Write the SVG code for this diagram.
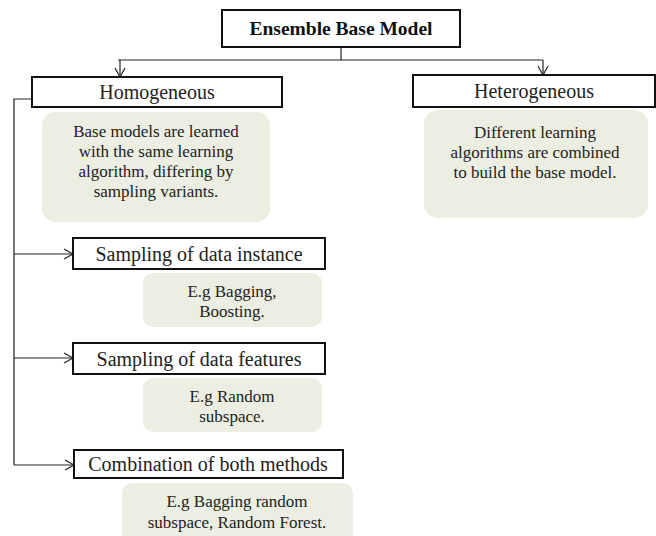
<svg xmlns="http://www.w3.org/2000/svg" width="656" height="536" viewBox="0 0 656 536">
<defs>
<marker id="arr" markerWidth="12" markerHeight="12" refX="10" refY="6" orient="auto" markerUnits="userSpaceOnUse">
<path d="M1,1 L10,6 L1,11" fill="none" stroke="#222" stroke-width="1.2"/>
</marker>
<style>
.box{fill:#fff;stroke:#111;stroke-width:2}
.note{fill:#eceee2;stroke:none}
.lbl{font-family:"Liberation Serif",serif;font-size:20px;fill:#222;text-anchor:middle}
.ttl{font-family:"Liberation Serif",serif;font-size:19.5px;font-weight:bold;fill:#111;text-anchor:middle}
.txt{font-family:"Liberation Serif",serif;font-size:17px;fill:#222;text-anchor:middle}
.con{fill:none;stroke:#222;stroke-width:1.2}
</style>
</defs>
<rect width="656" height="536" fill="#fff"/>
<g id="connectors">
<path class="con" d="M341,47 V60"/>
<path class="con" d="M118,60 H543"/>
<path class="con" d="M120,60 V77" marker-end="url(#arr)"/>
<path class="con" d="M543,60 V75" marker-end="url(#arr)"/>
<path class="con" d="M32,99 H14 V465"/>
<path class="con" d="M14,254 H73" marker-end="url(#arr)"/>
<path class="con" d="M14,358 H73" marker-end="url(#arr)"/>
<path class="con" d="M14,465 H74" marker-end="url(#arr)"/>
</g>
<g id="ensemble">
<rect class="box" x="222" y="10" width="238" height="37"/>
<text class="ttl" x="341" y="35">Ensemble Base Model</text>
</g>
<g id="homogeneous">
<rect class="box" x="32" y="77" width="250" height="30"/>
<text class="lbl" x="157" y="99">Homogeneous</text>
</g>
<g id="homogeneous-note">
<rect class="note" x="42" y="112" width="228" height="110" rx="14"/>
<text class="txt" x="156" y="137">Base models are learned</text>
<text class="txt" x="156" y="157">with the same learning</text>
<text class="txt" x="156" y="177">algorithm, differing by</text>
<text class="txt" x="156" y="197">sampling variants.</text>
</g>
<g id="heterogeneous">
<rect class="box" x="413" y="75" width="242" height="32"/>
<text class="lbl" x="534" y="98">Heterogeneous</text>
</g>
<g id="heterogeneous-note">
<rect class="note" x="424" y="110" width="224" height="108" rx="14"/>
<text class="txt" x="535" y="138">Different learning</text>
<text class="txt" x="535" y="158">algorithms are combined</text>
<text class="txt" x="535" y="178">to build the base model.</text>
</g>
<g id="instance">
<rect class="box" x="73" y="238" width="252" height="31"/>
<text class="lbl" x="199" y="261">Sampling of data instance</text>
</g>
<g id="instance-note">
<rect class="note" x="143" y="273" width="179" height="54" rx="10"/>
<text class="txt" x="232" y="297">E.g Bagging,</text>
<text class="txt" x="232" y="317">Boosting.</text>
</g>
<g id="features">
<rect class="box" x="73" y="343" width="252" height="31"/>
<text class="lbl" x="199" y="366">Sampling of data features</text>
</g>
<g id="features-note">
<rect class="note" x="143" y="378" width="179" height="54" rx="10"/>
<text class="txt" x="232" y="402">E.g Random</text>
<text class="txt" x="232" y="422">subspace.</text>
</g>
<g id="combination">
<rect class="box" x="74" y="450" width="269" height="28"/>
<text class="lbl" x="208" y="471">Combination of both methods</text>
</g>
<g id="combination-note">
<rect class="note" x="122" y="483" width="231" height="60" rx="10"/>
<text class="txt" x="237" y="507">E.g Bagging random</text>
<text class="txt" x="237" y="528">subspace, Random Forest.</text>
</g>
</svg>
